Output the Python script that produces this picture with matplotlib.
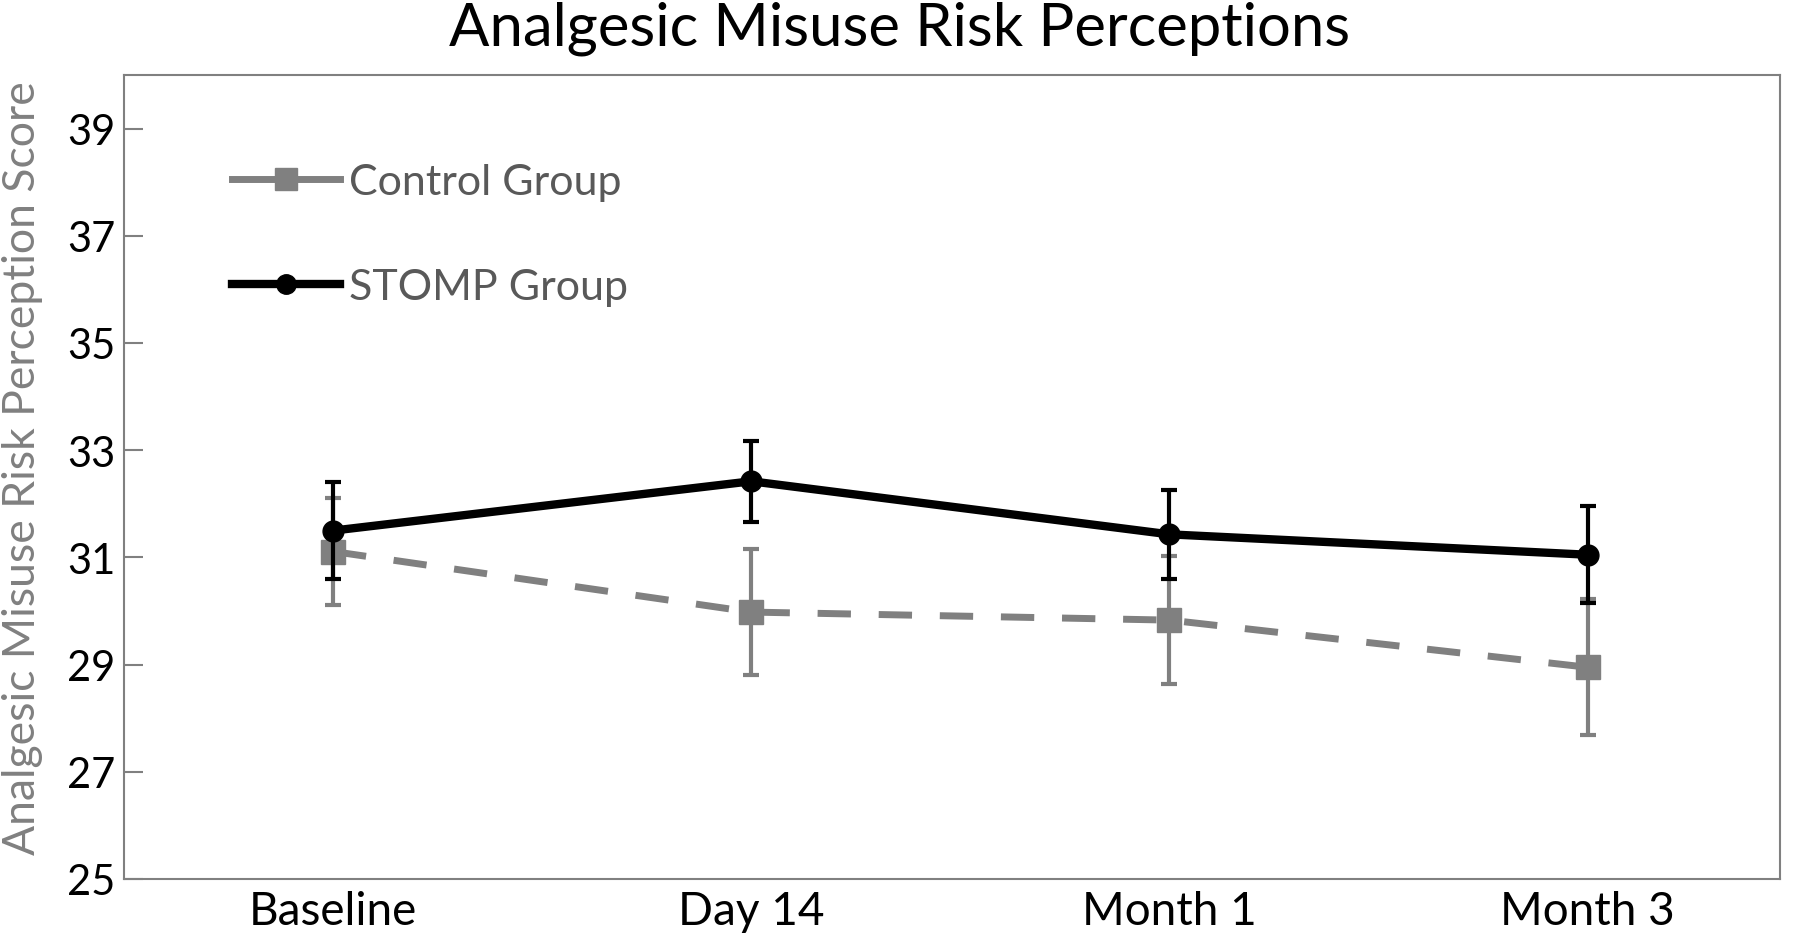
import matplotlib
matplotlib.use("Agg")
import matplotlib.pyplot as plt
from matplotlib.lines import Line2D

categories = ["Baseline", "Day 14", "Month 1", "Month 3"]
control_mean = [31.11, 29.98, 29.83, 28.95]
control_err = [1.00, 1.18, 1.20, 1.27]
stomp_mean = [31.50, 32.42, 31.43, 31.05]
stomp_err = [0.90, 0.76, 0.83, 0.90]
yticks = [25, 27, 29, 31, 33, 35, 37, 39]

plt.rcParams['font.family'] = ['Lato', 'DejaVu Sans']

fig = plt.figure(figsize=(18, 9.45), dpi=100)
ax = fig.add_axes([124/1800, 1 - 880/945, (1780-124)/1800, (880-76)/945])

x = list(range(len(categories)))
gray = '#808080'
ax.errorbar(x, control_mean, yerr=control_err, color=gray, lw=5, ls=(0, (4.8, 4)),
            marker='s', ms=17, elinewidth=3, capsize=6, capthick=3, zorder=2)
ax.errorbar(x, stomp_mean, yerr=stomp_err, color='black', lw=6, ls='-',
            marker='o', ms=15, elinewidth=3, capsize=6, capthick=3, zorder=3)

ax.set_xlim(-0.5, 3.46)
ax.set_ylim(25, 40)
ax.set_yticks(yticks)
ax.set_xticks(x)
ax.set_xticklabels(categories)
ax.tick_params(axis='y', direction='in', length=14, width=1.5, color=gray,
               labelsize=30, pad=6)
ax.tick_params(axis='x', length=0, labelsize=33, pad=8)
for s in ax.spines.values():
    s.set_color(gray)
    s.set_linewidth(1.5)

fig.text(0.0125, 0.505, "Analgesic Misuse Risk Perception Score", color=gray,
         fontsize=32, rotation=90, ha='center', va='center')
fig.suptitle("Analgesic Misuse Risk Perceptions", fontsize=43, y=0.998, va='top')

handles = [Line2D([0], [0], color=gray, lw=5, marker='s', ms=16),
           Line2D([0], [0], color='black', lw=6, marker='o', ms=14)]
leg = ax.legend(handles, ["Control Group", "STOMP Group"], loc='upper left',
                bbox_to_anchor=(0.055, 0.912), frameon=False, fontsize=31,
                handlelength=2.5, handletextpad=0.2, labelspacing=1.55,
                borderaxespad=0)
for t in leg.get_texts():
    t.set_color('#595959')

fig.savefig("out.png", dpi=100)
